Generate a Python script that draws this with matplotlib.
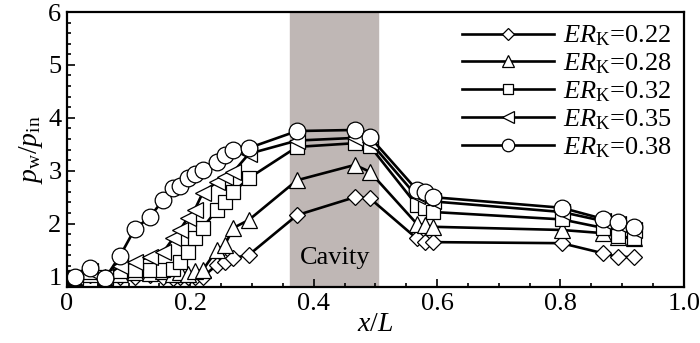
import matplotlib
matplotlib.use('Agg')
import matplotlib.pyplot as plt
from matplotlib.ticker import MultipleLocator

plt.rcParams['font.family'] = 'Liberation Serif'
plt.rcParams['mathtext.fontset'] = 'custom'
plt.rcParams['mathtext.rm'] = 'Liberation Serif'
plt.rcParams['mathtext.it'] = 'Liberation Serif:italic'

# === Data ===
x = [0.013, 0.037, 0.062, 0.086, 0.11, 0.134, 0.156, 0.172, 0.183, 0.196, 0.207, 0.22, 0.243,
     0.256, 0.27, 0.295, 0.373, 0.467, 0.491, 0.567, 0.58, 0.593, 0.802, 0.869, 0.893, 0.92]

er_022 = [1.0, 1.02, 0.98, 1.0, 1.0, 1.02, 1.0, 0.98, 1.0, 1.0, 1.0, 0.99, 1.22,
          1.27, 1.35, 1.41, 2.16, 2.50, 2.48, 1.72, 1.65, 1.65, 1.63, 1.44, 1.37, 1.37]
er_028 = [1.0, 1.05, 1.0, 1.05, 1.08, 1.06, 1.1, 1.05, 1.08, 1.04, 1.1, 1.12, 1.5,
          1.6, 1.92, 2.07, 2.82, 3.11, 2.98, 2.0, 1.97, 1.94, 1.88, 1.82, 1.75, 1.72]
er_032 = [1.0, 1.08, 1.0, 1.1, 1.13, 1.12, 1.12, 1.15, 1.27, 1.46, 1.73, 1.92, 2.26,
          2.41, 2.60, 2.86, 3.45, 3.52, 3.47, 2.35, 2.29, 2.22, 2.08, 1.92, 1.76, 1.73]
er_035 = [1.0, 1.1, 1.0, 1.2, 1.28, 1.37, 1.46, 1.72, 1.88, 2.11, 2.26, 2.58, 2.79,
          2.88, 2.98, 3.32, 3.57, 3.62, 3.55, 2.52, 2.48, 2.42, 2.22, 2.05, 2.0, 1.88]
er_038 = [1.0, 1.16, 0.97, 1.39, 1.90, 2.12, 2.45, 2.67, 2.71, 2.86, 2.94, 3.01, 3.16,
          3.30, 3.39, 3.43, 3.75, 3.77, 3.64, 2.64, 2.60, 2.50, 2.30, 2.09, 2.03, 1.94]

series = [er_022, er_028, er_032, er_035, er_038]
labels = ['0.22', '0.28', '0.32', '0.35', '0.38']
markers = ['D', '^', 's', '<', 'o']
sizes = [10, 11, 10, 11, 12]

cavity = (0.362, 0.505)

# === Plot ===
fig = plt.figure(figsize=(7, 3.43), dpi=100)
ax = fig.add_axes([0.0957, 0.163, 0.881, 0.802])

ax.axvspan(cavity[0], cavity[1], color='#bfb7b5', zorder=0)
ax.text(0.435, 1.35, 'Cavity', ha='center', va='center', fontsize=19)

for ys, lab, m, ms in zip(series, labels, markers, sizes):
    ax.plot(x, ys, color='black', lw=1.9, marker=m, ms=ms * (0.85 if m == 'D' else 1),
            mfc='white', mec='black', mew=0.9, label=r'$ER_{\mathrm{K}}$=' + lab)

ax.set_xlim(0, 1.0)
ax.set_ylim(0.8, 6)
ax.xaxis.set_major_locator(MultipleLocator(0.2))
ax.xaxis.set_minor_locator(MultipleLocator(0.05))
ax.yaxis.set_major_locator(MultipleLocator(1))
ax.yaxis.set_minor_locator(MultipleLocator(0.2))
ax.set_xticks([0, 0.2, 0.4, 0.6, 0.8, 1.0])
ax.set_xticklabels(['0', '0.2', '0.4', '0.6', '0.8', '1.0'])
ax.tick_params(which='both', direction='in', labelsize=19, width=1.2)
ax.tick_params(which='major', length=6, pad=4)
ax.tick_params(which='minor', length=3)
for s in ax.spines.values():
    s.set_linewidth(1.6)

ax.set_xlabel(r'$x/L$', fontsize=20, labelpad=-2)
ax.set_ylabel(r'$p_{\mathrm{w}}/p_{\mathrm{in}}$', fontsize=20, labelpad=2)

ax.legend(loc='upper right', frameon=False, fontsize=19, handlelength=3.5,
          markerscale=0.75, labelspacing=0.12, handletextpad=0.35,
          borderaxespad=0.2, borderpad=0.25)

fig.savefig('out.png', dpi=100)
